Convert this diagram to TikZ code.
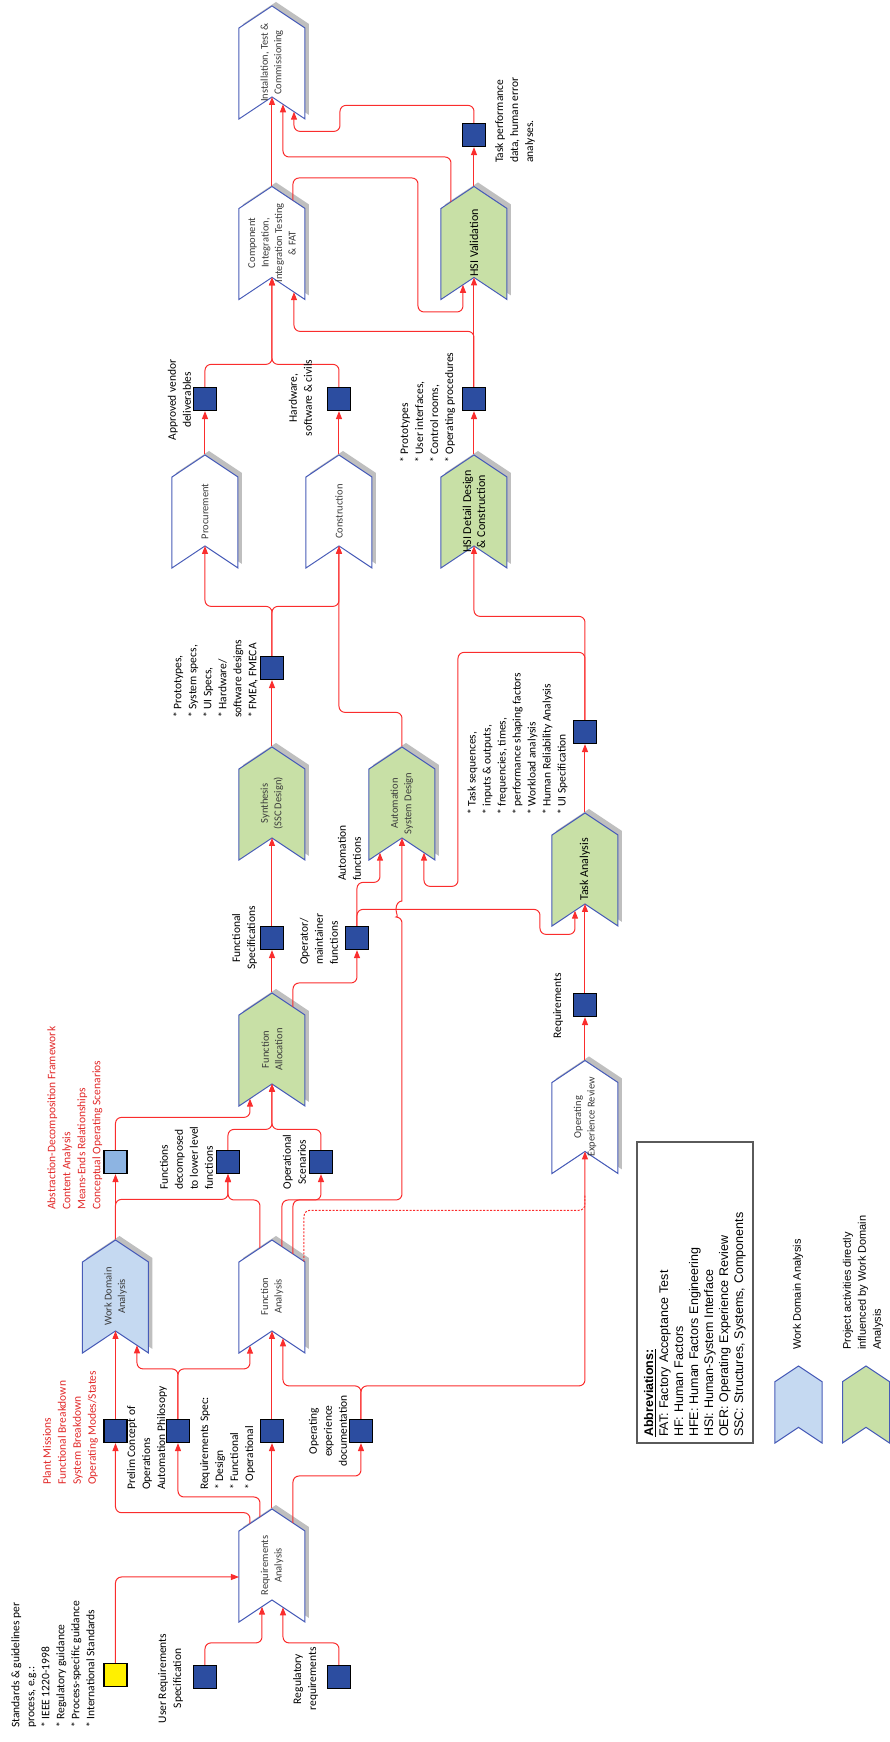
\documentclass[tikz,border=0pt]{standalone}
\usepackage{fontspec}
\setmainfont{Carlito}
\newfontfamily\arialfont{Liberation Sans}
\usetikzlibrary{shapes.symbols,shadows,arrows.meta,calc}
\definecolor{chevblue}{RGB}{72,92,184}
\definecolor{actgreen}{RGB}{200,224,166}
\definecolor{wdablue}{RGB}{197,217,241}
\definecolor{sqblue}{RGB}{44,77,160}
\definecolor{adflight}{RGB}{141,180,226}
\definecolor{stdyellow}{RGB}{255,240,0}
\definecolor{linered}{RGB}{250,45,45}
\definecolor{notered}{RGB}{225,40,40}
\definecolor{chevgray}{RGB}{60,60,60}
\definecolor{boxgray}{RGB}{90,90,90}
\newcommand{\chevfont}{\fontsize{10.5}{13.5}\selectfont}
\newcommand{\labfont}{\fontsize{11.5}{15}\selectfont}
\begin{document}
\begin{tikzpicture}[x=1pt,y=1pt,rotate=90,transform shape,
  chevbase/.style={shape=signal, signal to=east, signal from=west, signal pointer angle=112.6, draw=chevblue, line width=1, inner sep=0},
  chev/.style={chevbase, minimum width=113, minimum height=66, drop shadow={shadow xshift=4pt, shadow yshift=4pt, fill=black!25, opacity=1}},
  legchev/.style={chevbase, minimum width=77, minimum height=47},
  chevlab/.style={font=\chevfont, text=chevgray, align=center, inner sep=0},
  chevbig/.style={font=\fontsize{12}{14}\selectfont, text=black, align=center, inner sep=0},
  sq/.style={draw=black, line width=1.2, fill=sqblue, minimum size=23, inner sep=0},
  flow/.style={draw=linered, line width=1, rounded corners=6, -{Triangle[length=8pt,width=6pt]}},
  lab/.style={font=\labfont, align=left, anchor=west, inner sep=0},
  labc/.style={font=\labfont, align=center, inner sep=0},
  redlab/.style={lab, text=notered}]
\useasboundingbox (0,0) rectangle (1742,890);

\node[chev, fill=white, label={[chevlab]center:{Requirements\\Analysis}}] (reqana) at (176.5,618) {};
\node[chev, fill=wdablue, label={[chevlab]center:{Work Domain\\Analysis}}] (wda) at (445.5,774.5) {};
\node[chev, fill=white, label={[chevlab]center:{Function\\Analysis}}] (funcana) at (445.5,618) {};
\node[chev, fill=actgreen, label={[chevlab]center:{Function\\Allocation}}] (funcalloc) at (692.5,618) {};
\node[chev, fill=actgreen, label={[chevlab]center:{Synthesis\\(SSC Design)}}] (synth) at (938.5,618) {};
\node[chev, fill=actgreen, label={[chevlab]center:{Automation\\System Design}}] (autodes) at (938.5,488) {};
\node[chev, fill=white, label={[chevlab]center:{Procurement}}] (procure) at (1230.5,685) {};
\node[chev, fill=white, label={[chevlab]center:{Construction}}] (construct) at (1230.5,551) {};
\node[chev, fill=actgreen, label={[chevbig]center:{HSI Detail Design\\\& Construction}}] (hsidet) at (1230.5,416) {};
\node[chev, fill=white, label={[chevlab]center:{Component\\Integration,\\Integration Testing\\\& FAT}}] (compint) at (1499,618) {};
\node[chev, fill=white, label={[chevlab]center:{Installation, Test \&\\Commissioning}}] (install) at (1679.5,618) {};
\node[chev, fill=actgreen, label={[chevbig]center:{HSI Validation}}] (hsival) at (1499,416) {};
\node[chev, fill=white, label={[chevlab]center:{Operating\\Experience Review}}] (oer) at (625,305) {};
\node[chev, fill=actgreen, label={[chevbig]center:{Task Analysis}}] (taskana) at (872.5,305) {};

\node[sq, fill=stdyellow] (stdsq) at (67,774.5) {};
\node[sq] (urssq) at (65,685) {};
\node[sq] (regsq) at (65,551) {};
\node[sq] (plantsq) at (311,774.5) {};
\node[sq] (prelimsq) at (311,712) {};
\node[sq] (reqspecsq) at (311,618) {};
\node[sq] (opexpsq) at (311,529) {};
\node[sq, fill=adflight] (adfsq) at (580,774.5) {};
\node[sq] (fdecsq) at (580,662) {};
\node[sq] (opscensq) at (580,569) {};
\node[sq] (fspecsq) at (804,618) {};
\node[sq] (opmaintsq) at (804,533) {};
\node[sq] (protosq) at (1074,618) {};
\node[sq] (vendorsq) at (1343,685) {};
\node[sq] (hwsq) at (1343,551) {};
\node[sq] (hsisq) at (1343,416) {};
\node[sq] (tpdsq) at (1607,416) {};
\node[sq] (reqsq) at (737,305) {};
\node[sq] (tasksq) at (1010,305) {};

\draw[flow] (stdsq.east) -| ($(reqana)+(-11.5,33)$);
\draw[flow] (urssq.east) -- ++(22,0) |- ($(reqana)+(-41.2,10)$);
\draw[flow] (regsq.east) -- ++(22,0) |- ($(reqana)+(-41.8,-11)$);
\draw[flow] ($(reqana)+(41.8,22)$) -- ++(11,0) |- (plantsq.west);
\draw[flow] ($(reqana)+(48.5,12)$) -- ++(20,0) |- (prelimsq.west);
\draw[flow] (reqana.east) -- (reqspecsq.west);
\draw[flow] ($(reqana)+(42.5,-21)$) -- ++(47,0) |- (opexpsq.west);

\draw[flow] (plantsq.east) -- ($(wda)+(-34.5,0)$);
\draw[flow] (prelimsq.east) -- ++(50,0) |- ($(wda)+(-48.8,-21.5)$);
\draw[flow] (prelimsq.east) -- ++(50,0) |- ($(funcana)+(-49.2,22)$);
\draw[flow] (reqspecsq.east) -- ($(funcana)+(-34.5,0)$);
\draw[flow] (opexpsq.east) -- ++(33,0) |- ($(funcana)+(-41.8,-11)$);
\draw[flow, -, dash pattern=on 2pt off 1.5pt] ($(funcana)+(35.2,-32)$) -- ++(51,0) -- ++(0,-281) -- ++(16,0);
\draw[flow] (opexpsq.east) -- ++(33,0) |- ($(oer)+(-34.5,0)$);

\draw[flow] (wda.east) -- (adfsq.west);
\draw[flow] (wda.east) -- ++(40,0) |- (fdecsq.west);
\draw[flow] ($(funcana)+(48.5,12)$) -- ++(48,0) |- (fdecsq.west);
\draw[flow] ($(funcana)+(49.8,-10)$) -- ++(46.7,0) |- (opscensq.west);
\draw[flow] ($(funcana)+(42.5,-21)$) -- ++(54,0) -- ++(0,-109) -- ++(283,0) [sharp corners] arc[start angle=180, end angle=0, x radius=8, y radius=6] -- ($(autodes)+(-34.5,0)$);

\draw[flow] (adfsq.east) -- ++(32.5,0) |- ($(funcalloc)+(-49.2,22)$);
\draw[flow] (fdecsq.east) -- ++(20.5,0) |- ($(funcalloc)+(-34.5,0)$);
\draw[flow] (opscensq.east) -- ++(20.5,0) |- ($(funcalloc)+(-34.5,0)$);

\draw[flow] (funcalloc.east) -- (fspecsq.west);
\draw[flow] (fspecsq.east) -- ($(synth)+(-34.5,0)$);
\draw[flow] ($(funcalloc)+(42.5,-21)$) -- ++(24,0) |- (opmaintsq.west);
\draw[flow] (opmaintsq.east) -- ++(43.5,0) |- ($(autodes)+(-49.2,22)$);
\draw[flow] (opmaintsq.east) -- ++(16.5,0) -- ++(0,-183) -- ++(-25,0) |- ($(taskana)+(-41.2,10)$);

\draw[flow] (synth.east) -- (protosq.west);
\draw[flow] (protosq.east) -- ++(49.5,0) |- ($(procure)+(-34.5,0)$);
\draw[flow] (protosq.east) -- ++(49.5,0) |- ($(construct)+(-34.5,0)$);
\draw[flow] (autodes.east) -- ++(34,0) |- ($(construct)+(-34.5,0)$);
\draw[flow] (procure.east) -- (vendorsq.west);
\draw[flow] (construct.east) -- (hwsq.west);
\draw[flow] (vendorsq.east) -- ++(22.5,0) |- ($(compint)+(-34.5,0)$);
\draw[flow] (hwsq.east) -- ++(22.5,0) |- ($(compint)+(-34.5,0)$);
\draw[flow] (compint.east) -- ($(install)+(-34.5,0)$);
\draw[flow] ($(compint)+(42.5,-21)$) -- ++(22.5,0) -- ++(0,-125) -- ++(-134,0) |- ($(hsival)+(-41.8,11)$);

\draw[flow] (oer.east) -- (reqsq.west);
\draw[flow] (reqsq.east) -- ($(taskana)+(-34.5,0)$);
\draw[flow] (taskana.east) -- (tasksq.west);
\draw[flow] (tasksq.east) -- ++(103.5,0) |- ($(hsidet)+(-34.5,0)$);
\draw[flow] (tasksq.east) -- ++(67.5,0) -- ++(0,127) -- ++(-234,0) |- ($(autodes)+(-49.2,-22)$);
\draw[flow] (hsidet.east) -- (hsisq.west);
\draw[flow] (hsisq.east) -- ($(hsival)+(-34.5,0)$);
\draw[flow] (hsisq.east) -- ++(55.5,0) |- ($(compint)+(-49.2,-22)$);
\draw[flow] (hsival.east) -- (tpdsq.west);
\draw[flow] ($(hsival)+(41.2,23)$) -- ++(44.8,0) |- ($(install)+(-41.8,-11)$);
\draw[flow] (tpdsq.east) -- ++(17.5,0) -- ++(0,134) -- ++(-26,0) |- ($(install)+(-49.2,-22)$);

\node[lab] (stdnote) at (14,837) {Standards \& guidelines per\\process, e.g.:\\* IEEE 1220-1998\\* Regulatory guidance\\* Process-specific guidance\\* International Standards};
\node[labc] (ursnote) at (63.5,719.5) {User Requirements\\Specification};
\node[labc] (regnote) at (63,584.5) {Regulatory\\requirements};
\node[redlab] (plantnote) at (257,819.5) {Plant Missions\\Functional Breakdown\\System Breakdown\\Operating Modes/States};
\node[lab] (prelimnote) at (252,743) {Prelim Concept of\\Operations\\Automation Philosopy};
\node[lab] (reqspecnote) at (252,662.5) {Requirements Spec:\\* Design\\* Functional\\* Operational};
\node[labc] (opexpnote) at (311,562) {Operating\\experience\\documentation};
\node[redlab] (adfnote) at (532,815) {Abstraction-Decomposition Framework\\Content Analysis\\Means-Ends Relationships\\Conceptual Operating Scenarios};
\node[lab] (fdecnote) at (552,703.5) {Functions\\decomposed\\to lower level\\functions};
\node[labc] (opscennote) at (580,595.5) {Operational\\Scenarios};
\node[labc] (fspecnote) at (804,645.5) {Functional\\Specifications};
\node[lab] (opmaintnote) at (777,571) {Operator/\\maintainer\\functions};
\node[lab] (autofnote) at (861,540.5) {Automation\\functions};
\node[lab] (protonote) at (1024,674.5) {* Prototypes,\\* System specs,\\* UI Specs,\\* Hardware/\\software designs\\* FMEA, FMECA};
\node[labc] (vendornote) at (1342,710.5) {Approved vendor\\deliverables};
\node[labc] (hwnote) at (1344,589.5) {Hardware,\\software \& civils};
\node[lab] (hsinote) at (1279,462.5) {* Prototypes\\* User interfaces,\\* Control rooms,\\* Operating procedures};
\node[lab] (tasknote) at (927,372.5) {* Task sequences,\\* inputs \& outputs,\\* frequencies, times,\\* performance shaping factors\\* Workload analysis\\* Human Reliability Analysis\\* UI Specification};
\node[labc] (reqnote) at (736,332) {Requirements};
\node[lab] (tpdnote) at (1579,375) {Task performance\\data, human error\\analyses.};

\node[draw=boxgray, line width=1.3, text width=289, inner xsep=6, minimum height=116, align=left, font=\arialfont\fontsize{12.5}{15}\selectfont] (abbrev) at (449.5,195) {\textbf{\underline{Abbreviations:}}\\FAT: Factory Acceptance Test\\HF: Human Factors\\HFE: Human Factors Engineering\\HSI: Human-System Interface\\OER: Operating Experience Review\\SSC: Structures, Systems, Components};

\node[legchev, fill=wdablue] (legwda) at (337.5,91.5) {};
\node[legchev, fill=actgreen] (legact) at (337.5,24) {};
\node[lab, font=\arialfont\fontsize{11}{15}\selectfont] (legwdanote) at (392,92) {Work Domain Analysis};
\node[lab, font=\arialfont\fontsize{11}{15}\selectfont] (legactnote) at (392,27) {Project activities directly\\influenced by Work Domain\\Analysis};
\end{tikzpicture}
\end{document}
